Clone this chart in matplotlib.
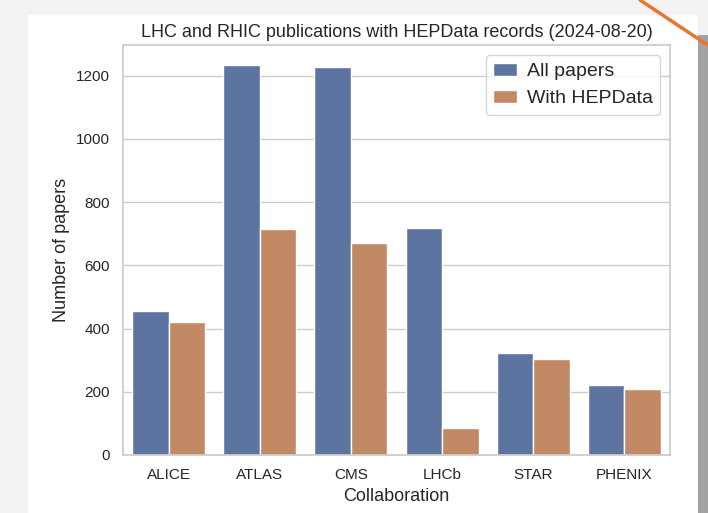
import matplotlib
matplotlib.use("Agg")
import matplotlib.pyplot as plt
import seaborn as sns
import pandas as pd
from matplotlib.patches import Rectangle

# paper counts per collaboration
collaborations = ["ALICE", "ATLAS", "CMS", "LHCb", "STAR", "PHENIX"]
all_papers = [454, 1235, 1228, 718, 324, 222]
with_hepdata = [422, 716, 670, 84, 304, 209]

rows = []
for c, a, w in zip(collaborations, all_papers, with_hepdata):
    rows.append({"Collaboration": c, "Number of papers": a, "kind": "All papers"})
    rows.append({"Collaboration": c, "Number of papers": w, "kind": "With HEPData"})
df = pd.DataFrame(rows)

sns.set_theme(style="whitegrid")
plt.rcParams['font.family'] = ['Liberation Sans', 'DejaVu Sans']

fig = plt.figure(figsize=(7.08, 5.13), dpi=100)
fig.patch.set_facecolor("#f3f3f3")

# screenshot card + side shadow
fig.patches.append(Rectangle((28/708, 0), (698-28)/708, 1 - 15/513,
                             transform=fig.transFigure, facecolor="white",
                             edgecolor="none", zorder=-2))
fig.patches.append(Rectangle((698/708, 0), 10/708, 1 - 35/513,
                             transform=fig.transFigure, facecolor="#a2a2a2",
                             edgecolor="none", zorder=-2))

ax = fig.add_axes([123/708, 1 - 455/513, (670-123)/708, (455-45)/513])
sns.barplot(data=df, x="Collaboration", y="Number of papers", hue="kind", ax=ax,
            palette=["#5e74a0", "#c18a65"], saturation=1)
ax.set_facecolor("white")
ax.set_title("LHC and RHIC publications with HEPData records (2024-08-20)", fontsize=13)
ax.set_xlabel("Collaboration", fontsize=13)
ax.set_ylabel("Number of papers", fontsize=13)
ax.tick_params(labelsize=11)
ax.legend(loc="upper right", fontsize=14, title=None, handlelength=1.2,
          handletextpad=0.5)

# orange annotation stroke at the top right corner
fig.lines.append(plt.Line2D([640/708, 700/708, 708/708], [1.0, 1 - 40/513, 1 - 45/513],
                            transform=fig.transFigure, color="#e8762c", linewidth=2.5,
                            zorder=5))

fig.savefig("out.png", dpi=100, facecolor=fig.get_facecolor())
